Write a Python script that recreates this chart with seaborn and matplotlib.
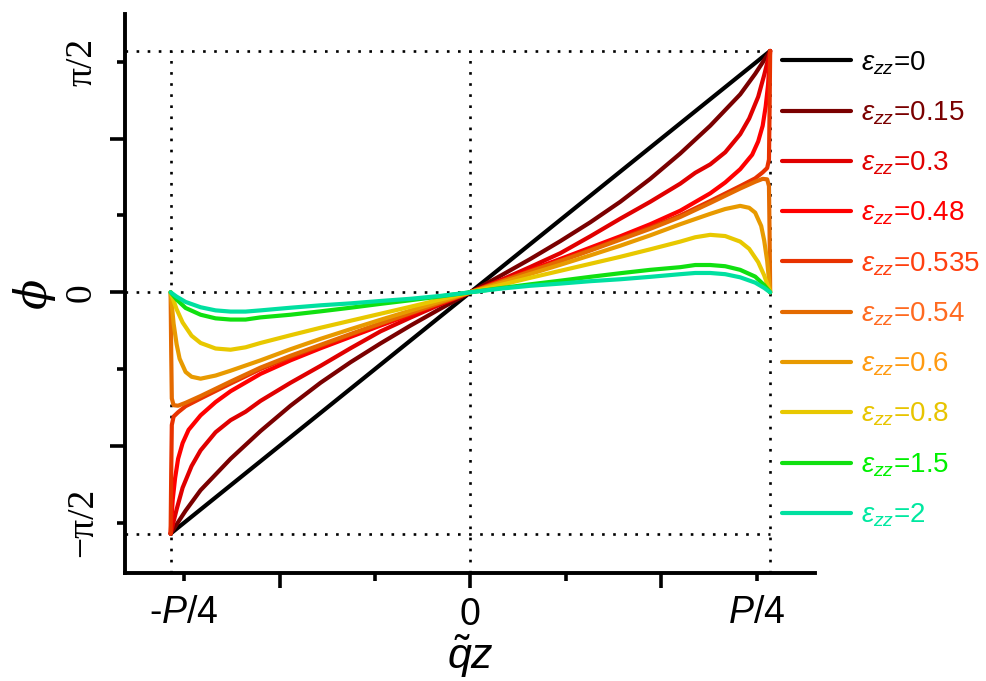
import numpy as np
import pandas as pd
import matplotlib
matplotlib.use("Agg")
import matplotlib.pyplot as plt
import seaborn as sns

# curve readings for the right half (x / pi, phi / (pi/2)); curves are odd in x
labels = [r'$\varepsilon_{zz}$=0', r'$\varepsilon_{zz}$=0.15', r'$\varepsilon_{zz}$=0.3',
          r'$\varepsilon_{zz}$=0.48', r'$\varepsilon_{zz}$=0.535', r'$\varepsilon_{zz}$=0.54',
          r'$\varepsilon_{zz}$=0.6', r'$\varepsilon_{zz}$=0.8', r'$\varepsilon_{zz}$=1.5',
          r'$\varepsilon_{zz}$=2']

u_0 = [0, 0.5, 1]
v_0 = [0, 0.5, 1]
u_015 = [0, .1, .2, .3, .4, .5, .6, .7, .8, .9, .95, 1]
v_015 = [0, .068, .138, .212, .29, .375, .47, .575, .69, .82, .905, 1]
u_03 = [0, .1, .2, .3, .4, .5, .6, .7, .75, .8, .85, .9, .93, .96, .98, .99, 1]
v_03 = [0, .05, .105, .162, .232, .305, .375, .45, .495, .53, .58, .655, .72, .81, .9, .95, 1]
u_048 = [0, .1, .2, .3, .4, .5, .6, .7, .8, .85, .9, .94, .96, .975, .985, .993, 1]
v_048 = [0, .046, .092, .138, .185, .232, .282, .338, .41, .455, .51, .57, .625, .69, .77, .86, 1]
u_0535 = [0, .1, .2, .3, .4, .5, .6, .7, .8, .9, .95, .975, .99, .996, .998, 1]
v_0535 = [0, .044, .088, .131, .176, .222, .268, .318, .378, .44, .472, .497, .515, .55, .75, 1]
u_054 = [0, .1, .2, .3, .4, .5, .6, .7, .8, .9, .95, .975, .99, .996, .998, 1]
v_054 = [0, .043, .086, .129, .173, .218, .263, .312, .37, .43, .458, .47, .468, .44, .25, 0]
u_06 = [0, .1, .2, .3, .4, .5, .6, .7, .8, .85, .9, .93, .95, .97, .98, .99, 1]
v_06 = [0, .038, .076, .114, .153, .193, .236, .282, .325, .345, .358, .35, .33, .275, .215, .13, 0]
u_08 = [0, .1, .2, .3, .4, .5, .6, .7, .75, .8, .85, .9, .93, .96, .98, 1]
v_08 = [0, .03, .06, .089, .118, .147, .178, .21, .228, .238, .233, .21, .18, .125, .07, 0]
u_15 = [0, .1, .2, .3, .4, .5, .6, .7, .75, .8, .85, .9, .95, .98, 1]
v_15 = [0, .017, .033, .048, .064, .079, .093, .104, .113, .113, .108, .093, .065, .03, 0]
u_2 = [0, .1, .2, .3, .4, .5, .6, .7, .75, .8, .85, .9, .95, .98, 1]
v_2 = [0, .015, .027, .036, .046, .054, .064, .075, .08, .08, .075, .062, .04, .018, 0]

line_colors = ['#000000', '#7a0000', '#e00000', '#ff0000', '#e83200', '#e46a00',
               '#e89a00', '#e8c800', '#10e010', '#00e0a0']
text_colors = ['#000000', '#7a0000', '#e00000', '#ff0000', '#ff4010', '#ff6a20',
               '#ff9a10', '#e8c400', '#00f000', '#00e8a0']

curves = [(u_0, v_0), (u_015, v_015), (u_03, v_03), (u_048, v_048), (u_0535, v_0535),
          (u_054, v_054), (u_06, v_06), (u_08, v_08), (u_15, v_15), (u_2, v_2)]

rows = []
for lab, (u, v) in zip(labels, curves):
    u = np.asarray(u, float) * np.pi
    v = np.asarray(v, float) * np.pi / 2
    xs = np.concatenate([-u[::-1], u[1:]])
    ys = np.concatenate([-v[::-1], v[1:]])
    rows.append(pd.DataFrame({'x': xs, 'phi': ys, 'eps': lab}))
df = pd.concat(rows, ignore_index=True)

sns.set_style("ticks")
plt.rcParams['font.family'] = ['Liberation Sans', 'DejaVu Sans']
plt.rcParams['mathtext.fontset'] = 'custom'
plt.rcParams['mathtext.rm'] = 'Liberation Sans'
plt.rcParams['mathtext.it'] = 'Liberation Sans:italic'
plt.rcParams['text.color'] = 'black'
plt.rcParams['axes.labelcolor'] = 'black'
plt.rcParams['xtick.color'] = 'black'
plt.rcParams['ytick.color'] = 'black'

fig = plt.figure(figsize=(9.87, 6.81), dpi=100)
ax = fig.add_axes([0.1266, 0.1586, 0.699, 0.8208])

xl = (-3.62, 3.61)
yl = (-1.827, 1.811)
lw = 3.0

# dotted guide lines
dot = dict(color='black', lw=1.9, linestyle=(0, (1, 3.2)), zorder=1)
for yy in (np.pi / 2, 0, -np.pi / 2):
    ax.plot([xl[0], np.pi], [yy, yy], **dot)
for xx in (-np.pi, 0, np.pi):
    ax.plot([xx, xx], [yl[0], np.pi / 2], **dot)

sns.lineplot(data=df, x='x', y='phi', hue='eps', hue_order=labels,
             palette=line_colors, estimator=None, sort=False,
             linewidth=lw, ax=ax, zorder=3)
for ln in ax.get_lines()[6:]:
    ln.set_linewidth(lw)
    ln.set_solid_joinstyle('round')

ax.set_xlim(xl)
ax.set_ylim(yl)

for s in ('top', 'right'):
    ax.spines[s].set_visible(False)
for s in ('left', 'bottom'):
    ax.spines[s].set_linewidth(2.8)
    ax.spines[s].set_color('black')

ax.set_xticks([-2, 0, 2])
ax.set_xticks([-3, -1, 1, 3], minor=True)
ax.set_xticklabels(['', '0', ''])
ax.set_xticklabels(['-$P$/4', '', '', '$P$/4'], minor=True)
ax.set_yticks([-1, 0, 1])
ax.set_yticks([-1.5, -0.5, 0.5, 1.5], minor=True)
ax.set_yticklabels(['', '0', ''])
ax.set_yticklabels(['\u2212\u03c0/2', '', '', '\u03c0/2'], minor=True)

ax.tick_params(axis='both', which='major', length=11, width=2.6, direction='out', color='black')
ax.tick_params(axis='both', which='minor', length=6, width=2.6, direction='out', color='black')
ax.tick_params(axis='x', which='major', pad=6, labelsize=27, labelcolor='black')
ax.tick_params(axis='x', which='minor', pad=10, labelsize=27, labelcolor='black')
ax.tick_params(axis='y', which='major', pad=8, labelsize=27, labelcolor='black')
ax.tick_params(axis='y', which='minor', pad=12, labelsize=27, labelcolor='black')
for t in ax.get_yticklabels(which='both'):
    t.set_rotation(90)
    t.set_va('center')
    t.set_family(['Liberation Serif', 'DejaVu Serif'])

ax.set_xlabel(r'$\tilde{q}z$', fontsize=31, labelpad=0)
ax.set_ylabel('\u03d5', fontsize=32, family='DejaVu Serif', style='italic', labelpad=6)

leg = ax.get_legend()
handles = leg.legend_handles
leg.remove()
leg = ax.legend(handles, labels, loc='upper left', bbox_to_anchor=(0.792, 0.928),
                bbox_transform=fig.transFigure, frameon=False, fontsize=20,
                handlelength=2.5, handletextpad=0.35, labelspacing=0.82,
                borderpad=0, borderaxespad=0)
for h in leg.legend_handles:
    h.set_linewidth(lw)
for t, c in zip(leg.get_texts(), text_colors):
    t.set_color(c)

fig.savefig('out.png', dpi=100)
